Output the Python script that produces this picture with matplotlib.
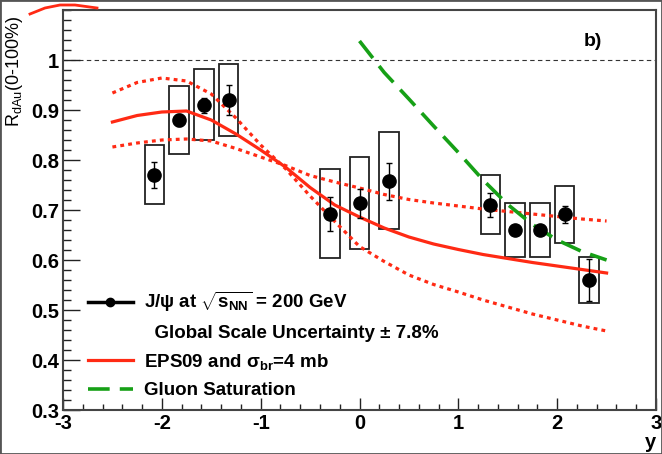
import matplotlib
matplotlib.use('Agg')
import matplotlib.pyplot as plt
from matplotlib.patches import Rectangle
from matplotlib.lines import Line2D
from matplotlib.ticker import MultipleLocator

plt.rcParams['font.family'] = ['Liberation Sans', 'DejaVu Sans']
plt.rcParams['mathtext.fontset'] = 'custom'
plt.rcParams['mathtext.rm'] = 'Liberation Sans'
plt.rcParams['mathtext.bf'] = 'Liberation Sans:bold'
plt.rcParams['mathtext.default'] = 'regular'
plt.rcParams['axes.unicode_minus'] = False

# J/psi R_dAu vs rapidity
y_pts = [-2.075, -1.825, -1.575, -1.325, -0.30, 0.00, 0.30, 1.325, 1.575, 1.825, 2.075, 2.325]
r_vals = [0.770, 0.880, 0.910, 0.920, 0.692, 0.714, 0.758, 0.710, 0.660, 0.660, 0.692, 0.560]
stat_err = [0.026, 0.012, 0.015, 0.029, 0.034, 0.029, 0.037, 0.024, 0.008, 0.008, 0.017, 0.042]
sys_lo = [0.712, 0.812, 0.840, 0.848, 0.604, 0.622, 0.662, 0.652, 0.606, 0.606, 0.634, 0.514]
sys_hi = [0.830, 0.948, 0.982, 0.992, 0.782, 0.806, 0.856, 0.770, 0.714, 0.714, 0.748, 0.606]

# EPS09 + sigma_br = 4 mb (central and the two band edges)
eps_y = [-2.5, -2.25, -2.0, -1.75, -1.5, -1.25, -1.0, -0.75, -0.5, -0.25, 0.0,
         0.25, 0.5, 0.75, 1.0, 1.25, 1.5, 1.75, 2.0, 2.25, 2.5]
eps_mid = [0.876, 0.889, 0.896, 0.898, 0.880, 0.852, 0.820, 0.786, 0.745, 0.710, 0.686,
           0.664, 0.646, 0.632, 0.621, 0.611, 0.603, 0.595, 0.588, 0.581, 0.574]
eps_a = [0.934, 0.955, 0.964, 0.958, 0.932, 0.884, 0.830, 0.783, 0.728, 0.677, 0.627,
         0.597, 0.570, 0.551, 0.536, 0.520, 0.506, 0.492, 0.480, 0.468, 0.458]
eps_b = [0.826, 0.834, 0.840, 0.842, 0.838, 0.823, 0.806, 0.789, 0.769, 0.756, 0.744,
         0.731, 0.721, 0.714, 0.708, 0.702, 0.697, 0.692, 0.687, 0.682, 0.678]

# gluon saturation
sat_y = [0.0, 0.25, 0.5, 0.75, 1.0, 1.25, 1.5, 1.75, 2.0, 2.25, 2.5]
sat_r = [1.038, 0.975, 0.922, 0.868, 0.815, 0.760, 0.711, 0.671, 0.640, 0.617, 0.600]

red = '#ff2a14'
green = '#16a016'

fig = plt.figure(figsize=(6.62, 4.54), dpi=100)
ax = fig.add_axes([63 / 662, 44 / 454, 593 / 662, 400 / 454])

# systematic boxes
for x, lo, hi in zip(y_pts, sys_lo, sys_hi):
    ax.add_patch(Rectangle((x - 0.1, lo), 0.2, hi - lo, fill=False,
                           edgecolor='#222222', lw=1.3, zorder=2))

ax.axhline(1.0, color='#333333', lw=0.8, ls=(0, (4, 3)), zorder=1)

ax.plot(eps_y, eps_mid, color=red, lw=2.3, zorder=3)
ax.plot(eps_y, eps_a, color=red, lw=2.3, ls=(0, (1.2, 1.3)), zorder=3)
ax.plot(eps_y, eps_b, color=red, lw=2.3, ls=(0, (1.2, 1.3)), zorder=3)
ax.plot(sat_y, sat_r, color=green, lw=2.6, ls=(0, (6, 2.8)), zorder=3)

ax.errorbar(y_pts, r_vals, yerr=stat_err, fmt='o', ms=9.5, color='black',
            elinewidth=1, capsize=2.5, capthick=1, zorder=4)

ax.set_xlim(-3, 3)
ax.set_ylim(0.3, 1.1)
ax.set_yticks([0.3, 0.4, 0.5, 0.6, 0.7, 0.8, 0.9, 1.0])
ax.set_yticklabels(['0.3', '0.4', '0.5', '0.6', '0.7', '0.8', '0.9', '1'])
ax.xaxis.set_major_locator(MultipleLocator(1))
ax.xaxis.set_minor_locator(MultipleLocator(0.2))
ax.yaxis.set_minor_locator(MultipleLocator(0.02))
ax.tick_params(axis='both', which='both', direction='in', top=False, right=False,
               color='#222222', width=1)
ax.tick_params(axis='y', which='major', length=12.5, pad=3, labelsize=14.5)
ax.tick_params(axis='y', which='minor', length=6)
ax.tick_params(axis='x', which='major', length=9, pad=3, labelsize=14.5)
ax.tick_params(axis='x', which='minor', length=4.5)
for lab in ax.get_xticklabels() + ax.get_yticklabels():
    lab.set_fontweight('bold')
for sp in ax.spines.values():
    sp.set_color('#444444')
    sp.set_linewidth(1.5)

ax.set_xlabel('y', fontsize=14.5, fontweight='bold', loc='right', labelpad=0)
ax.set_ylabel(r'R$_{dAu}$(0-100%)', fontsize=13)
ax.yaxis.label.set_horizontalalignment('right')
ax.yaxis.set_label_coords(-0.064, 0.985)

ax.text(0.894, 0.92, 'b)', transform=ax.transAxes, fontsize=14, fontweight='bold',
        ha='center', va='center')

handles = [Line2D([], [], color='black', lw=2.5, marker='o', ms=6),
           Line2D([], [], color='none'),
           Line2D([], [], color=red, lw=2.3),
           Line2D([], [], color=green, lw=2.6, ls=(0, (6, 2.8)))]
labels = [r'J/ψ at $\sqrt{s_{NN}}$ = 200 GeV',
          '  Global Scale Uncertainty ± 7.8%',
          r'EPS09 and σ$_{br}$=4 mb',
          'Gluon Saturation']
leg = ax.legend(handles, labels, loc='upper left', bbox_to_anchor=(0.042, 0.3),
                frameon=False, borderpad=0, borderaxespad=0, handlelength=2.4,
                handletextpad=0.6, labelspacing=0.55,
                prop={'size': 13.5, 'weight': 'bold'})

# outer frame and the clipped curve from the neighbouring panel
fig.patches.append(Rectangle((0, 0), 1, 1, transform=fig.transFigure, fill=False,
                             edgecolor='#555555', lw=2))
fig.add_artist(Line2D([30 / 662, 45 / 662, 60 / 662, 75 / 662, 97 / 662],
                      [1 - 14 / 454, 1 - 8 / 454, 1 - 5 / 454, 1 - 5 / 454, 1 - 8 / 454],
                      transform=fig.transFigure, color=red, lw=2))

fig.savefig('out.png', dpi=100)
